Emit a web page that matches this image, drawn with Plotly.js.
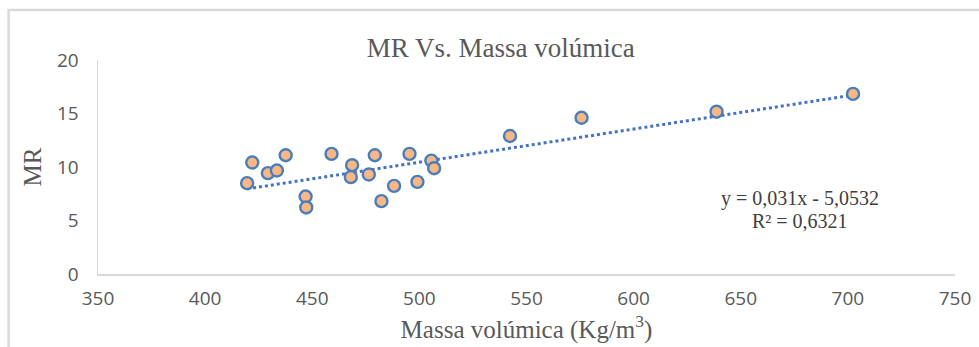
<!DOCTYPE html>
<html>
<head>
<meta charset="utf-8">
<script src="https://cdn.plot.ly/plotly-3.0.1.min.js"></script>
<style>
html,body{margin:0;padding:0;background:#fff;}
#chart{width:979px;height:347px;}
</style>
</head>
<body>
<div id="chart"></div>
<script>
// Data
const massaVolumica = [419.6, 422.0, 429.3, 433.5, 437.6, 446.9, 447.2, 459.0, 468.6, 468.0, 476.4, 479.2, 482.3, 488.2, 495.4, 499.1, 505.6, 506.9, 542.3, 575.7, 638.7, 702.4];
const mrValues      = [8.49, 10.42, 9.43, 9.67, 11.1, 7.24, 6.22, 11.23, 10.17, 9.05, 9.3, 11.1, 6.81, 8.24, 11.23, 8.61, 10.6, 9.89, 12.9, 14.6, 15.17, 16.83];
const trendSlope = 0.031;
const trendIntercept = -5.0532;
const trendEquation = "y = 0,031x - 5,0532";
const trendR2 = "R² = 0,6321";
const xTicks = [350, 400, 450, 500, 550, 600, 650, 700, 750];
const yTicks = [0, 5, 10, 15, 20];

const xMin = Math.min(...massaVolumica), xMax = Math.max(...massaVolumica);
const trendX = [xMin, xMax];
const trendY = trendX.map(x => trendSlope * x + trendIntercept);

const traces = [
  {
    x: trendX, y: trendY, type: 'scatter', mode: 'lines',
    line: {color: '#4472C4', width: 3, dash: 'dot'},
    hoverinfo: 'skip', showlegend: false
  },
  {
    x: massaVolumica, y: mrValues, type: 'scatter', mode: 'markers',
    marker: {size: 12, color: '#F8B784', line: {color: '#4A7EBB', width: 2.4}},
    showlegend: false
  }
];

const tickFont = {family: 'Open Sans, Lato, sans-serif', size: 19, color: '#595959'};
const serif = 'Liberation Serif, Times New Roman, serif';

const layout = {
  width: 979, height: 347,
  margin: {l: 97.5, r: 23.5, t: 60, b: 72.7, pad: 0},
  paper_bgcolor: '#ffffff', plot_bgcolor: '#ffffff',
  showlegend: false,
  title: {
    text: 'MR Vs. Massa volúmica',
    font: {family: serif, size: 27, color: '#595959'},
    xref: 'container', yref: 'container',
    x: 0.5115, xanchor: 'center', y: 0.862, yanchor: 'middle'
  },
  xaxis: {
    range: [350, 750], tickvals: xTicks, ticktext: xTicks.map(String),
    showgrid: false, zeroline: false,
    showline: true, linecolor: '#D9D9D9', linewidth: 1.5,
    ticks: '', tickfont: tickFont, ticklabelstandoff: 7,
    title: {text: 'Massa volúmica (Kg/m<sup>3</sup>)', font: {family: serif, size: 25, color: '#595959'}, standoff: 2}
  },
  yaxis: {
    range: [0, 20], tickvals: yTicks, ticktext: yTicks.map(String),
    showgrid: false, zeroline: false,
    showline: true, linecolor: '#D9D9D9', linewidth: 1.5,
    ticks: '', tickfont: tickFont, ticklabelstandoff: 14,
    title: {text: 'MR', font: {family: serif, size: 25, color: '#595959'}, standoff: 8}
  },
  annotations: [
    {xref: 'x', yref: 'y', x: 677.5, y: 7.05, text: trendEquation, showarrow: false,
     font: {family: serif, size: 20, color: '#404040'}, xanchor: 'center', yanchor: 'middle'},
    {xref: 'x', yref: 'y', x: 677.5, y: 5.0, text: trendR2, showarrow: false,
     font: {family: serif, size: 20, color: '#404040'}, xanchor: 'center', yanchor: 'middle'}
  ],
  shapes: [
    {type: 'path', xref: 'paper', yref: 'paper', layer: 'above',
     path: 'M -0.1043,-0.4 L -0.1043,1.2333 L 1.1,1.2333',
     line: {color: '#D9D9D9', width: 2.5}}
  ]
};

Plotly.newPlot('chart', traces, layout, {displayModeBar: false, staticPlot: true});
</script>
</body>
</html>
